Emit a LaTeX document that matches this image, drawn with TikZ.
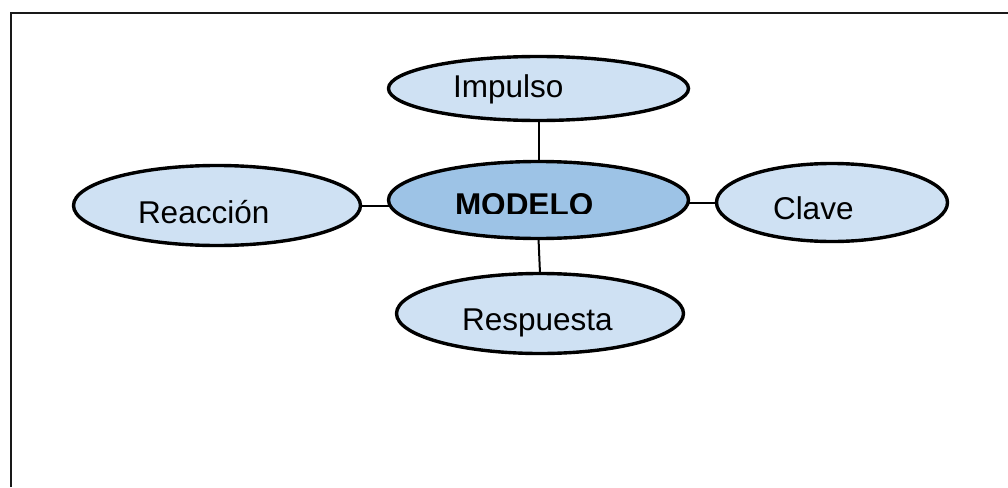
\documentclass[tikz,border=0pt]{standalone}
\usepackage{fontspec}
\setmainfont{Liberation Sans}
\usetikzlibrary{shapes.geometric}

\definecolor{lightblob}{HTML}{CFE1F3}
\definecolor{centreblob}{HTML}{9DC3E6}

\tikzset{
  blob/.style={ellipse, draw=black, line width=3.4pt, fill=lightblob,
               inner sep=0pt, outer sep=0pt},
  hubblob/.style={blob, fill=centreblob},
  word/.style={inner sep=0pt, outer sep=0pt, anchor=base west,
               font=\fontsize{31.5}{37}\selectfont},
  hubword/.style={word, font=\fontsize{31.5}{37}\selectfont\bfseries},
  link/.style={draw=black, line width=2pt},
  frameline/.style={draw=black!90, line width=2.2pt}
}

\begin{document}
\begin{tikzpicture}[x=1pt, y=-1pt]
  \useasboundingbox (0,0) rectangle (1008,487);

  % open frame: left and top edges
  \draw[frameline] (11.3,487) -- (11.3,12.8) -- (1008,12.8);

  % ellipses
  \node[blob, minimum width=300pt, minimum height=64pt] (imp) at (538.5,88.5) {};
  \node[hubblob, minimum width=300pt, minimum height=77pt] (mod) at (538.5,200) {};
  \node[blob, minimum width=287pt, minimum height=80pt] (rea) at (217,205.5) {};
  \node[blob, minimum width=231pt, minimum height=78pt] (cla) at (832,202.5) {};
  \node[blob, minimum width=287pt, minimum height=80pt] (res) at (540,313.5) {};

  % connectors
  \draw[link] (imp.south) -- (mod.north);
  \draw[link] (mod.south) -- (res.north);
  \draw[link] (rea.east) -- (mod.west |- rea.east);
  \draw[link] (cla.west -| mod.east) -- (cla.west);

  % labels
  \node[word] (timp) at (453,97) {Impulso};
  \node[word] (trea) at (138,223) {Reacción};
  \node[word] (tcla) at (773,219) {Clave};
  \node[word] (tres) at (462,330) {Respuesta};
  \begin{scope}
    \clip (380,150) rectangle (700,213);
    \node[hubword] (tmod) at (455,215.5) {MODELO};
  \end{scope}
\end{tikzpicture}
\end{document}
